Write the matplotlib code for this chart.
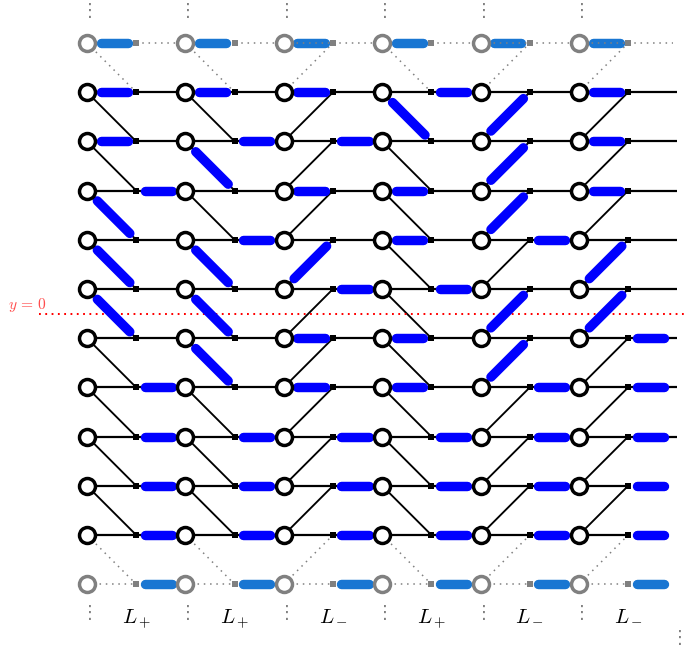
import matplotlib
matplotlib.use("Agg")
import matplotlib.pyplot as plt

# Lattice: 6 columns of circles, rows 0..11 (rows 0 and 11 are the grey ghost rows)
col_types = ["+", "+", "-", "+", "-", "-"]
col_labels = ["$L_+$", "$L_+$", "$L_-$", "$L_+$", "$L_-$", "$L_-$"]

# dimers per column, given as row numbers of the circle
left_flat = [[0, 1, 2], [0, 1], [0, 1, 3, 6, 7], [0, 3, 4, 6, 7], [0], [0, 1, 2, 3]]
left_diag = [[3, 4, 5], [2, 4, 5, 6], [5], [1], [2, 3, 4, 6, 7], [5, 6]]
right_flat = [[3, 7, 8, 9, 10, 11], [2, 4, 8, 9, 10, 11], [2, 5, 8, 9, 10, 11],
              [1, 5, 8, 9, 10, 11], [4, 7, 8, 9, 10, 11], [6, 7, 8, 9, 10, 11]]

n_cols = len(col_types)
rows = list(range(12))
ghost_rows = [0, 11]
zero_row = 5.5

BLUE = "#0000ff"
GHOST_BLUE = "#1976d2"
GREY = "#808080"
DOTS = (0, (1.0, 3.1))

fig = plt.figure(figsize=(6.9, 6.48), dpi=100)
ax = fig.add_axes([0, 0, 1, 1])
# one x unit is a column (98.4 px), one y unit a row (49.2 px)
ax.set_xlim(-87 / 98.4, (690 - 87) / 98.4)
ax.set_ylim((648 - 43) / 49.2, -43 / 49.2)
ax.axis("off")


def thin(x0, y0, x1, y1, ghost, lw=1.45, z=1):
    if ghost:
        ax.plot([x0, x1], [y0, y1], color=GREY, lw=1.1, ls=DOTS, zorder=z)
    else:
        ax.plot([x0, x1], [y0, y1], color="black", lw=lw, zorder=z, solid_capstyle="butt")


def dimer(x0, y0, x1, y1, ghost, t0=0.275, t1=0.83):
    xa, ya = x0 + (x1 - x0) * t0, y0 + (y1 - y0) * t0
    xb, yb = x0 + (x1 - x0) * t1, y0 + (y1 - y0) * t1
    ax.plot([xa, xb], [ya, yb], color=GHOST_BLUE if ghost else BLUE, lw=6.8,
            solid_capstyle="round", zorder=3)


# red y=0 line
ax.plot([-0.49, 6.1], [zero_row, zero_row], color="#ff0000", lw=1.45, ls=(0, (0.9, 2.23)), zorder=2)
ax.text(-0.80, zero_row - 0.17, r"$y\,=\,0$", color="#ff4d4d", fontsize=11.2, ha="left", va="center",
        math_fontfamily="cm")

for c in range(n_cols):
    step = 1 if col_types[c] == "+" else -1
    xs = c + 0.5
    for r in rows:
        ghost = r in ghost_rows
        # circle -> square, flat
        z = 4 if (ghost and step == -1 and r == 0) else 1
        thin(c, r, xs, r, ghost, lw=1.6, z=z)
        # square -> next circle, flat
        if c < n_cols - 1:
            thin(xs, r, c + 1, r, ghost, lw=1.6)
        elif r == 0:
            thin(xs, r, c + 0.96, r, True)
        elif r < 9:
            thin(xs, r, c + 1, r, False, lw=1.6)
        # diagonals
        r2 = r + step
        if r2 in rows and not (ghost and r2 in ghost_rows):
            thin(c, r, xs, r2, ghost or r2 in ghost_rows, lw=1.35)

    for r in left_flat[c]:
        dimer(c, r, xs, r, r in ghost_rows)
    for r in left_diag[c]:
        dimer(c, r, xs, r + step, False, t0=0.21, t1=0.87)
    for r in right_flat[c]:
        dimer(c + 1, r, xs, r, r in ghost_rows)

    # nodes
    for r in rows:
        col = GREY if r in ghost_rows else "black"
        ax.plot(c, r, "o", ms=11.5, mfc="white", mec=col, mew=2.5, zorder=5)
        ax.plot(xs, r, "s", ms=4.8, mfc=col, mec=col, mew=0, zorder=5)

    ax.text(c + 0.03, -0.66, "⋮", color=GREY, fontsize=13, ha="center", va="center", family="DejaVu Sans")
    ax.text(c + 0.03, 11.58, "⋮", color=GREY, fontsize=13, ha="center", va="center", family="DejaVu Sans")
    # L_- sits a little low with baseline alignment, so lift it
    label_y = 11.81 if col_types[c] == "+" else 11.75
    ax.text(xs, label_y, col_labels[c], color="black", fontsize=15, ha="center", va="baseline",
            math_fontfamily="cm")

ax.text(6.03, 12.09, "⋮", color=GREY, fontsize=13, ha="center", va="center", family="DejaVu Sans")

fig.savefig("out.png", dpi=100)
